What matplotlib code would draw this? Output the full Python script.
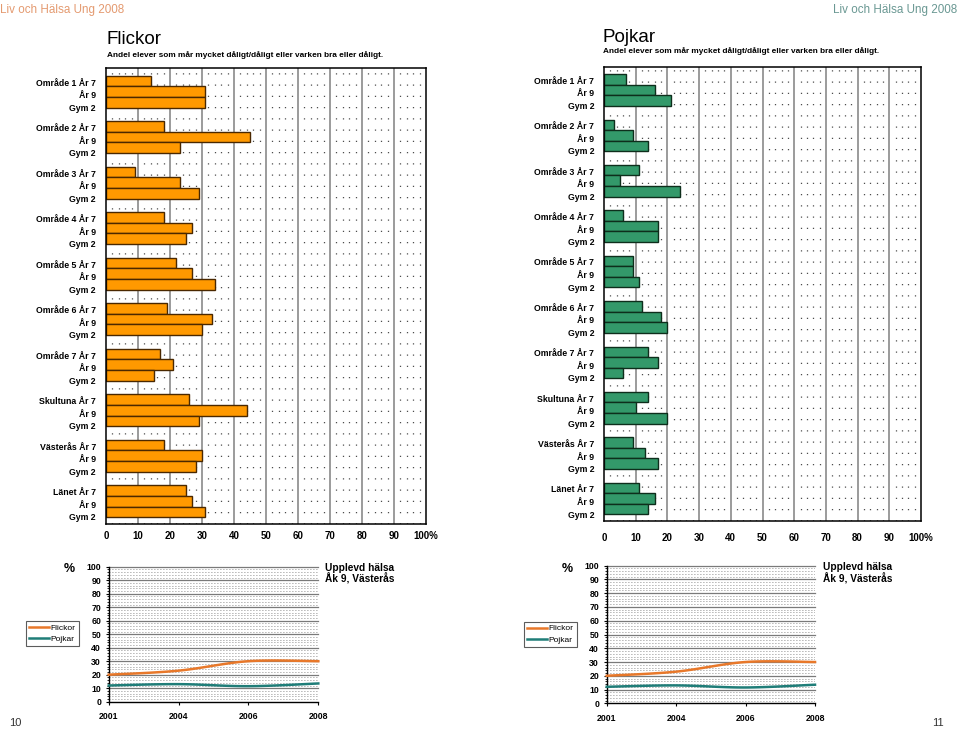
import numpy as np
import matplotlib
matplotlib.use('Agg')
import matplotlib.pyplot as plt
from matplotlib.lines import Line2D
from matplotlib.transforms import blended_transform_factory

# ---------------- data ----------------
areas = ['Område 1', 'Område 2', 'Område 3', 'Område 4', 'Område 5',
         'Område 6', 'Område 7', 'Skultuna', 'Västerås', 'Länet']
grades = ['År 7', 'År 9', 'Gym 2']

flickor_ar7 = [14, 18, 9, 18, 22, 19, 17, 26, 18, 25]
flickor_ar9 = [31, 45, 23, 27, 27, 33, 21, 44, 30, 27]
flickor_gym2 = [31, 23, 29, 25, 34, 30, 15, 29, 28, 31]

pojkar_ar7 = [7, 3, 11, 6, 9, 12, 14, 14, 9, 11]
pojkar_ar9 = [16, 9, 5, 17, 9, 18, 17, 10, 13, 16]
pojkar_gym2 = [21, 14, 24, 17, 11, 20, 6, 20, 17, 14]

pct_ticks = [0, 10, 20, 30, 40, 50, 60, 70, 80, 90, 100]
pct_labels = ['0', '10', '20', '30', '40', '50', '60', '70', '80', '90', '100%']

years = ['2001', '2004', '2006', '2008']
trend_flickor = [20, 23, 30, 30]
trend_pojkar = [12, 13, 11.5, 13.5]

# ---------------- style ----------------
SANS = ['Liberation Sans', 'DejaVu Sans']
plt.rcParams['font.family'] = SANS

W, H = 960, 729
fig = plt.figure(figsize=(W / 100, H / 100), dpi=100)


def rect(x0, y0, x1, y1):
    return [x0 / W, 1 - y1 / H, (x1 - x0) / W, (y1 - y0) / H]


def fy(y):
    return 1 - y / H


def bar_panel(r, series, color, edge, ylim, tick_pad):
    ax = fig.add_axes(r)
    ax.set_xlim(0, 100)
    ax.set_ylim(*ylim)
    # dotted minor grid
    for v in range(2, 100, 2):
        if v % 10:
            ax.axvline(v, color='#4d4d4d', lw=0.9, ls=(0, (1, 8)), zorder=0)
    for v in range(10, 100, 10):
        ax.axvline(v, color='#808080', lw=1.1, zorder=0.5)
    bh = 0.93
    for k, vals in enumerate(series):
        ypos = [g * 4 + 1 + (k - 1) * bh for g in range(len(vals))]
        ax.barh(ypos, vals, height=bh, color=color, edgecolor=edge,
                linewidth=1.0, zorder=2)
    for s in ax.spines.values():
        s.set_color('black')
        s.set_linewidth(1.1)
    ax.set_yticks([])
    ax.set_xticks(pct_ticks)
    ax.set_xticklabels(pct_labels)
    ax.tick_params(axis='x', length=0, pad=tick_pad)
    for t in ax.get_xticklabels():
        t.set_fontweight('bold')
        t.set_fontsize(7.0)
    tr = blended_transform_factory(ax.transAxes, ax.transData)
    for g, name in enumerate(areas):
        ax.text(-0.031, g * 4 + 1 + 0.35,
                f'{name} {grades[0]}\n{grades[1]}\n{grades[2]}',
                transform=tr, ha='right', va='center', multialignment='right',
                fontweight='bold', fontsize=6.3, linespacing=1.52)
    return ax


bar_panel(rect(106, 68, 426, 524), [flickor_ar7, flickor_ar9, flickor_gym2],
          '#FF9900', '#4a2800', (39.0, -1.08), 5)
bar_panel(rect(604, 66.7, 921, 520.7), [pojkar_ar7, pojkar_ar9, pojkar_gym2],
          '#33996A', '#0e2e1c', (38.95, -1.05), 9)


def smooth(xv, yv, n=40):
    xv = np.asarray(xv, float)
    yv = np.asarray(yv, float)
    m = len(xv)
    outx, outy = [], []
    t = np.linspace(0, 1, n)
    for i in range(m - 1):
        x0, y0 = xv[i], yv[i]
        x3, y3 = xv[i + 1], yv[i + 1]
        xp, yp = xv[max(i - 1, 0)], yv[max(i - 1, 0)]
        xn, yn = xv[min(i + 2, m - 1)], yv[min(i + 2, m - 1)]
        x1, y1 = x0 + (x3 - xp) / 6, y0 + (y3 - yp) / 6
        x2, y2 = x3 - (xn - x0) / 6, y3 - (yn - y0) / 6
        bx = (1 - t) ** 3 * x0 + 3 * (1 - t) ** 2 * t * x1 + 3 * (1 - t) * t ** 2 * x2 + t ** 3 * x3
        by = (1 - t) ** 3 * y0 + 3 * (1 - t) ** 2 * t * y1 + 3 * (1 - t) * t ** 2 * y2 + t ** 3 * y3
        outx.extend(bx)
        outy.extend(by)
    return np.array(outx), np.array(outy)


def trend_panel(r, legend_xy, pct_xy, note_xy):
    ax = fig.add_axes(r)
    x = np.arange(len(years))
    ax.set_xlim(0, len(years) - 1)
    ax.set_ylim(0, 100)
    for v in range(2, 100, 2):
        if v % 10:
            ax.axhline(v, color='#666666', lw=0.6, ls=(0, (1, 2.6)), zorder=0)
    for v in range(10, 101, 10):
        ax.axhline(v, color='#7a7a7a', lw=0.9, zorder=0.5, clip_on=False)
    fx, fyv = smooth(x, trend_flickor)
    px, pyv = smooth(x, trend_pojkar)
    ax.plot(fx, fyv, color='#E8782A', lw=1.8, zorder=3, clip_on=False)
    ax.plot(px, pyv, color='#1F7D78', lw=1.8, zorder=3, clip_on=False)
    ax.spines['top'].set_visible(False)
    ax.spines['right'].set_visible(False)
    ax.spines['left'].set_linewidth(1.0)
    ax.spines['bottom'].set_linewidth(1.0)
    ax.set_yticks(range(0, 101, 10))
    ax.set_yticks(range(0, 101, 2), minor=True)
    ax.set_xticks(x)
    ax.set_xticklabels(years)
    ax.tick_params(axis='y', which='major', length=2.5, width=0.8, pad=3.0,
                   labelsize=6.3)
    ax.tick_params(axis='y', which='minor', length=1.5, width=0.6)
    ax.tick_params(axis='x', length=2.5, width=0.8, pad=5, labelsize=6.3)
    for t in ax.get_xticklabels() + ax.get_yticklabels():
        t.set_fontweight('bold')
    handles = [Line2D([], [], color='#E8782A', lw=1.8),
               Line2D([], [], color='#1F7D78', lw=1.8)]
    leg = fig.legend(handles, ['Flickor', 'Pojkar'], loc='upper left',
                     bbox_to_anchor=(legend_xy[0] / W, fy(legend_xy[1])),
                     bbox_transform=fig.transFigure, frameon=True,
                     fancybox=False, edgecolor='#333333', fontsize=6,
                     handlelength=2.4, handletextpad=0.2, borderpad=0.35,
                     labelspacing=0.45, borderaxespad=0)
    leg.get_frame().set_linewidth(0.8)
    fig.text(pct_xy[0] / W, fy(pct_xy[1]), '%', ha='center', va='baseline',
             fontsize=9, fontweight='bold')
    fig.text(note_xy[0] / W, fy(note_xy[1]), 'Upplevd hälsa\nÅk 9, Västerås',
             ha='left', va='baseline', fontsize=7.3, fontweight='bold',
             linespacing=1.05)
    return ax


trend_panel(rect(108.7, 566.7, 318.3, 701.7), (26, 621), (69, 572), (325, 583))
trend_panel(rect(606.7, 565.7, 815, 703.3), (524, 621.7), (567, 572), (823, 582))

# ---------------- page texts ----------------
fig.text(0 / W, fy(13.5), 'Liv och Hälsa Ung 2008', ha='left', va='baseline',
         fontsize=8.4, color='#E49A70')
fig.text(957 / W, fy(13.5), 'Liv och Hälsa Ung 2008', ha='right', va='baseline',
         fontsize=8.4, color='#6A9893')

fig.text(107 / W, fy(44.3), 'Flickor', ha='left', va='baseline', fontsize=13.5)
fig.text(107 / W, fy(57.3),
         'Andel elever som mår mycket dåligt/dåligt eller varken bra eller dåligt.',
         ha='left', va='baseline', fontsize=5.95, fontweight='bold')
fig.text(603 / W, fy(41.7), 'Pojkar', ha='left', va='baseline', fontsize=13.5)
fig.text(603 / W, fy(53.3),
         'Andel elever som mår mycket dåligt/dåligt eller varken bra eller dåligt.',
         ha='left', va='baseline', fontsize=5.95, fontweight='bold')

fig.text(9 / W, fy(726), '10', ha='left', va='baseline',
         fontsize=8, color='#333333')
fig.text(944 / W, fy(726), '11', ha='right', va='baseline',
         fontsize=8, color='#333333')

fig.savefig('out.png', dpi=100)
